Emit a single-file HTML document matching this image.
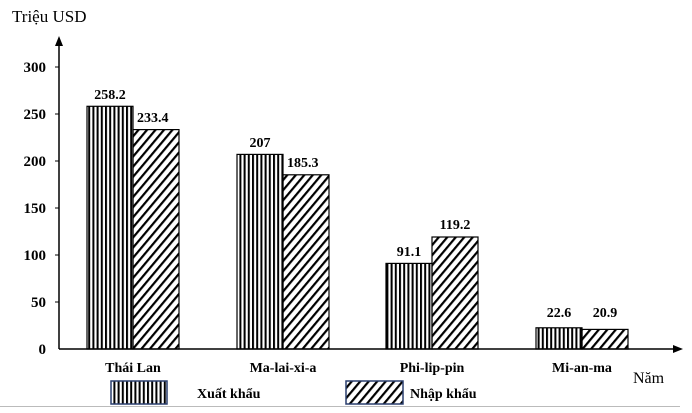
<!DOCTYPE html>
<html><head><meta charset="utf-8"><style>body{margin:0;background:#fff}</style></head><body>
<svg width="692" height="408" xmlns="http://www.w3.org/2000/svg" font-family="Liberation Serif, serif">
<defs>
<pattern id="v" width="4.2" height="10" patternUnits="userSpaceOnUse"><rect x="0" y="0" width="2" height="10" fill="#000"/></pattern>
<pattern id="d" width="6.5" height="8" patternUnits="userSpaceOnUse" patternTransform="rotate(40)"><rect x="0" y="0" width="2.2" height="8" fill="#000"/></pattern>
</defs>
<text x="12" y="22" font-size="17">Triệu USD</text>
<line x1="59" y1="44" x2="59" y2="349" stroke="#000" stroke-width="1.5"/>
<polygon points="59,36 55,46 63,46" fill="#000"/>
<line x1="59" y1="349" x2="674" y2="349" stroke="#000" stroke-width="1.5"/>
<polygon points="683,349 673,345 673,353" fill="#000"/>
<g font-size="15" font-weight="bold" text-anchor="end">
<text x="46" y="72">300</text><text x="46" y="119">250</text><text x="46" y="166">200</text><text x="46" y="213">150</text><text x="46" y="260">100</text><text x="46" y="307">50</text><text x="46" y="354">0</text>
</g>
<g stroke="#000" stroke-width="1"><line x1="55" y1="67" x2="59" y2="67"/><line x1="55" y1="114" x2="59" y2="114"/><line x1="55" y1="161" x2="59" y2="161"/><line x1="55" y1="208" x2="59" y2="208"/><line x1="55" y1="255" x2="59" y2="255"/><line x1="55" y1="302" x2="59" y2="302"/></g>
<g stroke="#000" stroke-width="1.2">
<rect x="87" y="106.3" width="46" height="242.7" fill="url(#v)"/>
<rect x="133" y="129.6" width="46" height="219.4" fill="url(#d)"/>
<rect x="237" y="154.4" width="46" height="194.6" fill="url(#v)"/>
<rect x="283" y="174.8" width="46" height="174.2" fill="url(#d)"/>
<rect x="386" y="263.4" width="46" height="85.6" fill="url(#v)"/>
<rect x="432" y="237" width="46" height="112" fill="url(#d)"/>
<rect x="536" y="327.8" width="46" height="21.2" fill="url(#v)"/>
<rect x="582" y="329.4" width="46" height="19.6" fill="url(#d)"/>
</g>
<g font-size="14" font-weight="bold">
<text x="110" y="99" text-anchor="middle">258.2</text>
<text x="137" y="122">233.4</text>
<text x="260" y="147" text-anchor="middle">207</text>
<text x="287" y="167">185.3</text>
<text x="409" y="256" text-anchor="middle">91.1</text>
<text x="455" y="229" text-anchor="middle">119.2</text>
<text x="559" y="317" text-anchor="middle">22.6</text>
<text x="605" y="317" text-anchor="middle">20.9</text>
</g>
<g font-size="14" font-weight="bold" text-anchor="middle">
<text x="133" y="372">Thái Lan</text><text x="283" y="372">Ma-lai-xi-a</text><text x="432" y="372">Phi-lip-pin</text><text x="582" y="372">Mi-an-ma</text>
</g>
<text x="633" y="383" font-size="16">Năm</text>
<rect x="111" y="381" width="56" height="23" fill="url(#v)" stroke="#2a3f6e" stroke-width="1.5"/>
<rect x="346" y="381" width="57" height="23" fill="url(#d)" stroke="#2a3f6e" stroke-width="1.5"/>
<text x="197" y="398" font-size="14" font-weight="bold">Xuất khẩu</text>
<text x="410" y="398" font-size="14" font-weight="bold">Nhập  khẩu</text>
<line x1="0" y1="406.5" x2="680" y2="406.5" stroke="#bbb" stroke-width="1"/>
</svg>
</body></html>
